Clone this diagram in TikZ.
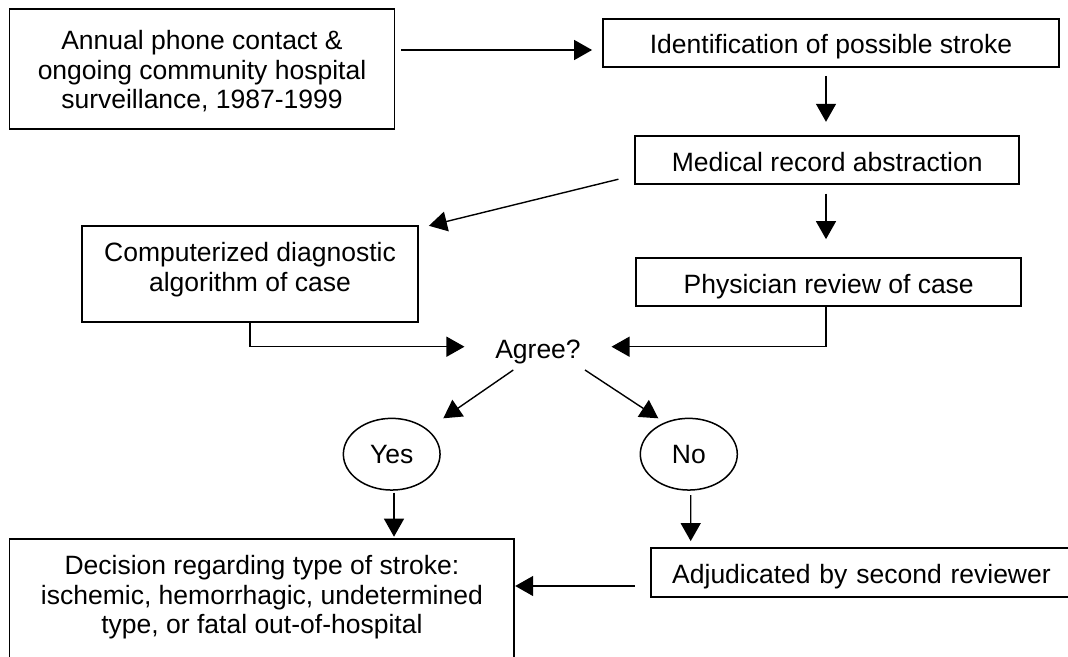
\documentclass[tikz,border=0pt]{standalone}
\usepackage{fontspec}
\setmainfont{Liberation Sans}
\usetikzlibrary{arrows.meta,calc,shapes.geometric}
\begin{document}
\begin{tikzpicture}[x=1pt,y=-1pt,
  every node/.style={font=\fontsize{26.5}{29.5}\selectfont},
  box/.style={draw, line width=1.8pt, rectangle, inner sep=0pt, align=center},
  onebox/.style={box, text height=24.2pt, text depth=2pt},
  oval/.style={draw, ellipse, line width=1.5pt, inner sep=0pt},
  arr/.style={line width=1.4pt, -{Triangle[length=18pt,width=20pt]}}]
\useasboundingbox (0,0) rectangle (1068,656);
\clip (0,0) rectangle (1068,656);

\node[box, minimum width=385pt, minimum height=119.4pt] (ann) at (202,69)
  {\rule{0pt}{23.7pt}Annual phone contact \&\\ongoing community hospital\\surveillance, 1987-1999};
\node[onebox, minimum width=456.6pt, minimum height=47.7pt] (ident) at (831,42.8)
  {Identification of possible stroke};
\node[onebox, minimum width=384.3pt, minimum height=48pt] (med) at (827.2,160)
  {Medical record abstraction};
\node[onebox, minimum width=384.7pt, minimum height=47.7pt] (phys) at (828.7,282.2)
  {Physician review of case};
\node[box, minimum width=336.6pt, minimum height=96pt] (comp) at (250,274)
  {Computerized diagnostic\\algorithm of case\rule[-14.6pt]{0pt}{0pt}};
\node[inner xsep=30.6pt, inner ysep=0pt, text height=25.2pt, text depth=2pt] (agree) at (538,346.7) {Agree?};
\node[oval, minimum width=96.7pt, minimum height=71.7pt] (yes) at (391.7,454.2) {Yes};
\node[oval, minimum width=97pt, minimum height=71.7pt] (no) at (688.8,454.2) {No};
\node[box, anchor=north, minimum width=504.8pt] (dec) at (261.9,537.7)
  {\rule{0pt}{36.3pt}Decision regarding type of stroke:\\ischemic, hemorrhagic, undetermined\\type, or fatal out-of-hospital\rule[-40pt]{0pt}{0pt}};
\node[onebox, anchor=west, align=left, text width=420pt, inner xsep=21.2pt, minimum height=49pt] (adj) at (650.1,572.2)
  {Adjudicated by second reviewer};

\coordinate (adjout) at ($(adj.west)+(-15.6,13.8)$);

\draw[arr] ($(ann.east)+(5.8,-19)$) -- ($(ident.west)+(-9.7,7.2)$);
\draw[arr] ($(ident.south)+(-5,8.3)$) -- ($(med.north)+(-1.2,-13.3)$);
\draw[arr] ($(med.south)+(-1.2,8.7)$) -- ($(phys.north)+(-2.7,-18.3)$);
\draw[arr] ($(med.south west)+(-15.7,-5.7)$) -- ($(comp.north east)+(9.7,0.7)$);
\draw[arr] ($(phys.south)+(-2.7,0)$) |- (agree.east);
\draw[arr] (comp.south) |- (agree.west);
\draw[arr] ($(agree.center)+(-24.7,23.3)$) -- ($(yes.center)+(51.6,-35.9)$);
\draw[arr] ($(agree.center)+(47,23.3)$) -- ($(no.center)+(-30.5,-35.9)$);
\draw[arr] ($(yes.south)+(2.3,1.7)$) -- ($(dec.north)+(132.1,-1)$);
\draw[arr] ($(no.south)+(1.9,4.3)$) -- ($(adj.north west)+(40.6,-5.7)$);
\draw[arr] (adjout) -- (adjout -| dec.east);
\end{tikzpicture}
\end{document}
